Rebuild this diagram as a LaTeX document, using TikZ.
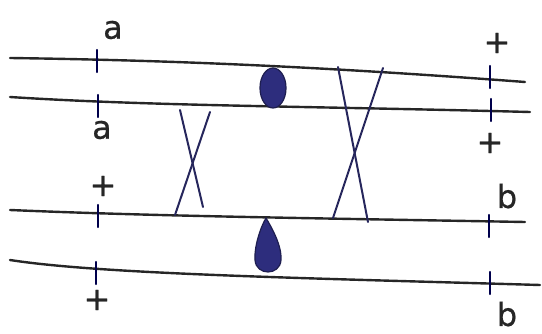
\documentclass[tikz,border=0pt]{standalone}
\usepackage{fontspec}
\setmainfont{DejaVu Sans}
\begin{document}
\begin{tikzpicture}[x=1pt,y=-1pt,
  chrom/.style={line width=2.4pt,draw=black!85,line cap=round},
  tick/.style={line width=2.2pt,draw=blue!30!black,line cap=round},
  cross/.style={line width=2pt,draw=blue!25!black!85,line cap=round},
  lbl/.style={font=\fontsize{32}{32}\selectfont\addfontfeatures{FakeBold=0.6},text=black!85,inner sep=0pt},
  centro/.style={fill={rgb,255:red,45;green,45;blue,125},draw={rgb,255:red,30;green,30;blue,80},line width=1.2pt}]
\useasboundingbox (0,0) rectangle (542,334);
% chromosome end points
\coordinate (l1s) at (10,58);  \coordinate (l1e) at (525,82);
\coordinate (l2s) at (10,97);  \coordinate (l2e) at (530,112);
\coordinate (l3s) at (10,210); \coordinate (l3e) at (525,222);
\coordinate (l4s) at (10,260); \coordinate (l4e) at (540,285);
\draw[chrom] (l1s) .. controls (150,60) and (300,65) .. (l1e);
\draw[chrom] (l2s) .. controls (150,106) and (300,106) .. (l2e);
\draw[chrom] (l3s) .. controls (150,216) and (300,218) .. (l3e);
\draw[chrom] (l4s) .. controls (100,274) and (300,278) .. (l4e);
% ticks
\foreach \x/\y in {97/61,98/106,98/216,96/273,490/77,491/110,489/226,490/283}
  \draw[tick] (\x,\y-11) -- (\x,\y+11);
% crossovers
\coordinate (c1a) at (180,110); \coordinate (c1b) at (203,207);
\coordinate (c1c) at (210,112); \coordinate (c1d) at (175,215);
\coordinate (c2a) at (338,67);  \coordinate (c2b) at (368,222);
\coordinate (c2c) at (383,68);  \coordinate (c2d) at (333,218);
\draw[cross] (c1a) -- (c1b);
\draw[cross] (c1c) -- (c1d);
\draw[cross] (c2a) -- (c2b);
\draw[cross] (c2c) -- (c2d);
% centromeres
\draw[centro] (273,88) ellipse (13pt and 20pt);
\draw[centro] (266,218) .. controls (260,228) and (254,248) .. (255,260)
   .. controls (256,276) and (280,276) .. (281,260)
   .. controls (282,246) and (272,228) .. (266,218) -- cycle;
% labels
\node[lbl] (la1) at (113,30) {a};
\node[lbl] (la2) at (102,130) {a};
\node[lbl] (lp3) at (103,186) {+};
\node[lbl] (lp4) at (97,300) {+};
\node[lbl] (rp1) at (497,43) {+};
\node[lbl] (rp2) at (490,143) {+};
\node[lbl] (rb3) at (507,196) {b};
\node[lbl] (rb4) at (507,314) {b};
\end{tikzpicture}
\end{document}
